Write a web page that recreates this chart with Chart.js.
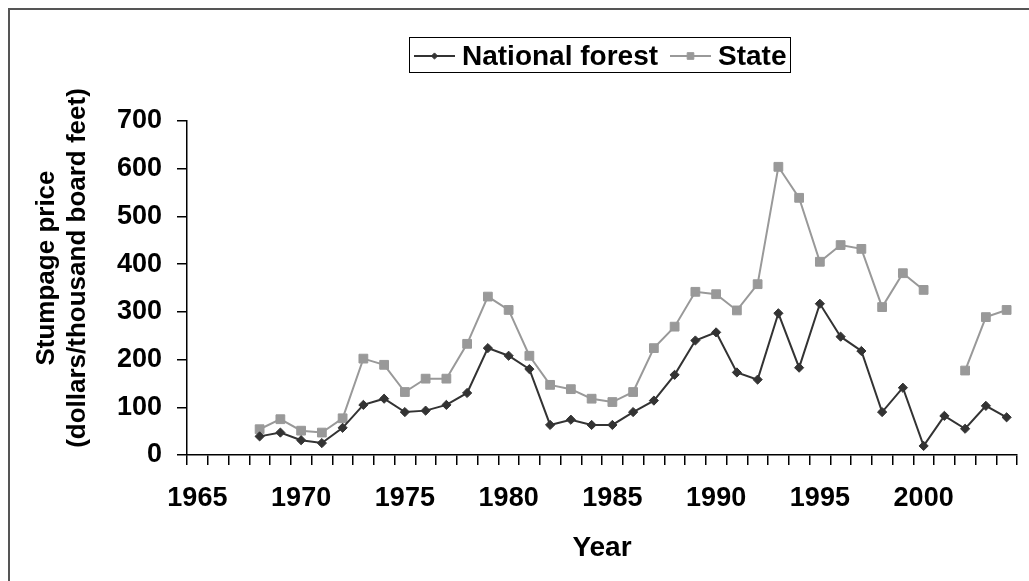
<!DOCTYPE html>
<html>
<head>
<meta charset="utf-8">
<title>Stumpage price</title>
<script src="https://cdn.jsdelivr.net/npm/chart.js@4"></script>
<style>
    body { margin: 0; background: #fff; }
    #wrap { width: 1029px; height: 581px; }
</style>
</head>
<body>
<div id="wrap"><canvas id="priceChart" width="1029" height="581"></canvas></div>
<script>
// Years on the category axis (1965 - 2004)
const years = [];
for (let y = 1965; y <= 2004; y++) years.push(y);

// Stumpage price, dollars per thousand board feet (no data before 1968)
const nationalForest = [
    null, null, null, 39, 47, 31, 25, 57, 105, 118,
    90, 93, 105, 130, 224, 208, 180, 63, 74, 63,
    63, 90, 114, 168, 240, 257, 173, 158, 297, 183,
    317, 248, 218, 90, 141, 19, 82, 55, 103, 79
];
const stateValues = [
    null, null, null, 54, 75, 51, 47, 77, 202, 189,
    132, 160, 160, 233, 332, 304, 208, 147, 138, 118,
    111, 132, 224, 269, 342, 337, 303, 358, 604, 539,
    405, 440, 432, 310, 381, 346, null, 177, 289, 304
];
const yTicks = [0, 100, 200, 300, 400, 500, 600, 700];

const FONT = '"Liberation Sans", Arial, sans-serif';
const NF_COLOR = '#333333';
const ST_COLOR = '#999999';

// Outer frame, legend box and two-line y title
const chartDecor = {
    id: 'chartDecor',
    afterDraw(chart) {
        const ctx = chart.ctx;
        ctx.save();

        // frame (runs off the right and bottom edges)
        ctx.strokeStyle = '#555555';
        ctx.lineWidth = 2;
        ctx.beginPath();
        ctx.moveTo(1040, 9);
        ctx.lineTo(9, 9);
        ctx.lineTo(9, 600);
        ctx.stroke();

        // legend
        ctx.strokeStyle = '#000';
        ctx.lineWidth = 1;
        ctx.strokeRect(409.5, 37.5, 381, 35);
        const items = [
            { ds: chart.data.datasets[0], x: 414 },
            { ds: chart.data.datasets[1], x: 670 }
        ];
        ctx.font = 'bold 28px ' + FONT;
        ctx.textBaseline = 'middle';
        items.forEach(it => {
            const cy = 56;
            ctx.strokeStyle = it.ds.borderColor;
            ctx.lineWidth = 2;
            ctx.beginPath();
            ctx.moveTo(it.x, cy);
            ctx.lineTo(it.x + 41, cy);
            ctx.stroke();
            ctx.fillStyle = it.ds.pointBackgroundColor;
            ctx.strokeStyle = it.ds.pointBorderColor;
            ctx.lineWidth = 1;
            Chart.helpers.drawPoint(ctx, {
                pointStyle: it.ds.pointStyle,
                radius: it.ds.pointRadius - 1.5,
                borderWidth: 1
            }, it.x + 20.5, cy);
            ctx.fillStyle = '#000';
            ctx.fillText(it.ds.label, it.x + 48, cy + 1);
        });

        // y axis title
        ctx.font = 'bold 26px ' + FONT;
        ctx.textAlign = 'center';
        ctx.fillStyle = '#000';
        ctx.translate(0, 268);
        ctx.rotate(-Math.PI / 2);
        ctx.fillText('Stumpage price', 0, 47);
        ctx.fillText('(dollars/thousand board feet)', 0, 78);
        ctx.restore();
    }
};

const ctx = document.getElementById('priceChart');
new Chart(ctx, {
    type: 'line',
    data: {
        labels: years,
        datasets: [{
            label: 'National forest',
            data: nationalForest,
            borderColor: NF_COLOR,
            backgroundColor: NF_COLOR,
            borderWidth: 2,
            pointStyle: 'rectRot',
            pointRadius: 4.6,
            pointBackgroundColor: NF_COLOR,
            pointBorderColor: NF_COLOR,
            pointBorderWidth: 1,
            tension: 0,
            spanGaps: false
        }, {
            label: 'State',
            data: stateValues,
            borderColor: ST_COLOR,
            backgroundColor: ST_COLOR,
            borderWidth: 2,
            pointStyle: 'rect',
            pointRadius: 6.2,
            pointBackgroundColor: ST_COLOR,
            pointBorderColor: ST_COLOR,
            pointBorderWidth: 1,
            tension: 0,
            spanGaps: false
        }]
    },
    options: {
        responsive: false,
        animation: false,
        devicePixelRatio: 1,
        layout: { padding: { top: 121, right: 12, left: 0, bottom: 0 } },
        plugins: {
            legend: { display: false },
            tooltip: { enabled: false }
        },
        scales: {
            x: {
                type: 'category',
                offset: true,
                grid: {
                    offset: true,
                    drawOnChartArea: false,
                    drawTicks: true,
                    tickLength: 10,
                    color: '#000',
                    lineWidth: 1.5
                },
                border: { display: true, color: '#000', width: 1.5 },
                ticks: {
                    autoSkip: false,
                    maxRotation: 0,
                    minRotation: 0,
                    padding: 17,
                    color: '#000',
                    font: { family: FONT, size: 27, weight: 'bold' },
                    callback: function(value, index) {
                        return years[index] % 5 === 0 ? String(years[index]) : '';
                    }
                },
                title: {
                    display: true,
                    text: 'Year',
                    color: '#000',
                    font: { family: FONT, size: 28, weight: 'bold' },
                    padding: { top: 0, bottom: 16 }
                },
                afterFit: function(scale) { scale.height = 126; }
            },
            y: {
                min: 0,
                max: 700,
                afterBuildTicks: function(scale) {
                    scale.ticks = yTicks.map(v => ({ value: v }));
                },
                grid: {
                    drawOnChartArea: false,
                    drawTicks: true,
                    tickLength: 10,
                    color: '#000',
                    lineWidth: 1.5
                },
                border: { display: true, color: '#000', width: 1.5 },
                ticks: {
                    padding: 15,
                    color: '#000',
                    font: { family: FONT, size: 27, weight: 'bold' }
                },
                afterFit: function(scale) { scale.width = 187; }
            }
        }
    },
    plugins: [chartDecor]
});
</script>
</body>
</html>
